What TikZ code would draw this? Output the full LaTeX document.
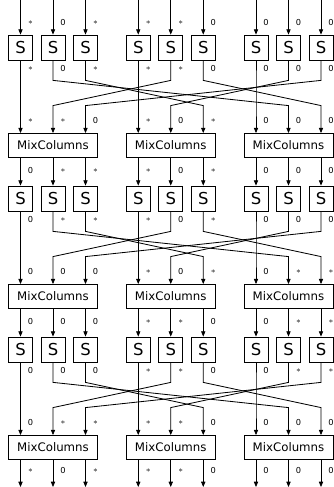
\documentclass[tikz,border=0pt]{standalone}
\usepackage{fontspec}
\setmainfont{DejaVu Sans}
\usetikzlibrary{arrows.meta,calc}

% 1 = active byte (*), 0 = zero byte; 9 entries per level
\def\labs{{1,0,1,1,1,0,0,0,0,
           1,0,1,1,1,0,0,0,0,
           1,1,0,1,0,1,0,0,0,
           0,1,1,1,0,1,0,0,0,
           0,1,1,1,0,1,0,0,0,
           0,0,0,1,0,1,0,1,1,
           0,0,0,1,1,0,0,1,1,
           0,0,0,1,1,0,0,1,1,
           0,1,1,1,1,0,0,0,0,
           1,0,1,1,1,0,0,0,0}}
\newcommand{\lv}[1]{\pgfmathtruncatemacro\v{\labs[#1]}\ifnum\v=1 $*$\else 0\fi}

\tikzset{
  sbox/.style={draw, minimum width=20.4pt, minimum height=21.2pt, inner sep=0pt, font=\fontsize{14}{14}\selectfont},
  mixbox/.style={draw, minimum width=75.6pt, minimum height=20.4pt, inner sep=0pt, font=\fontsize{10}{12}\selectfont},
  lbl/.style={inner sep=0pt, xshift=8.5pt, font=\fontsize{7}{8}\selectfont},
}

\begin{document}
\begin{tikzpicture}[x=0.85pt,y=-0.85pt,line width=0.7pt,>={Triangle[length=4.5pt,width=3.6pt]}]
  \useasboundingbox (0,0) rectangle (334,487);
  % boxes
  \foreach \k in {0,1,2}{
    \foreach \c in {0,1,2}{
      \node[mixbox] (m-\k-\c) at ({53+117.75*\c},{145.5+151*\k}) {MixColumns};
      \foreach \r in {0,1,2}
        \node[sbox] (s-\k-\c-\r) at ({20.5+117.75*\c+32.5*\r},{47.5+151*\k}) {S};
    }
  }
  % inputs and outputs
  \foreach \c in {0,1,2}{
    \foreach \r in {0,1,2}{
      \coordinate (in-\c-\r) at (s-0-\c-\r |- 0,0);
      \coordinate (out-\c-\r) at (s-2-\c-\r |- 0,487);
      \draw[->] (in-\c-\r) -- node[lbl,pos=0.66] {\lv{3*\c+\r}} (s-0-\c-\r.north);
      \draw[->] (m-2-\c.south -| out-\c-\r) -- node[lbl,pos=0.4] {\lv{81+3*\c+\r}} (out-\c-\r);
    }
  }
  % shift rows between S layer and MixColumns
  \foreach \k in {0,1,2}{
    \foreach \c in {0,1,2}{
      \foreach \r in {0,1,2}{
        \pgfmathtruncatemacro\cc{mod(\c-\r+3,3)}
        \draw[->] (s-\k-\c-\r.south) -- node[lbl,pos=0.4] {\lv{9*(3*\k+1)+3*\c+\r}} ++(0,20)
          -- ($(m-\k-\cc.north -| s-\k-\cc-\r)+(0,-27.5)$)
          -- node[lbl,pos=0.53] {\lv{9*(3*\k+2)+3*\cc+\r}} (m-\k-\cc.north -| s-\k-\cc-\r);
      }
    }
  }
  % MixColumns to next S layer
  \foreach \k [evaluate=\k as \kk using int(\k+1)] in {0,1}{
    \foreach \c in {0,1,2}{
      \foreach \r in {0,1,2}
        \draw[->] (m-\k-\c.south -| s-\kk-\c-\r) -- node[lbl,pos=0.44] {\lv{9*(3*\k+3)+3*\c+\r}} (s-\kk-\c-\r.north);
    }
  }
\end{tikzpicture}
\end{document}
